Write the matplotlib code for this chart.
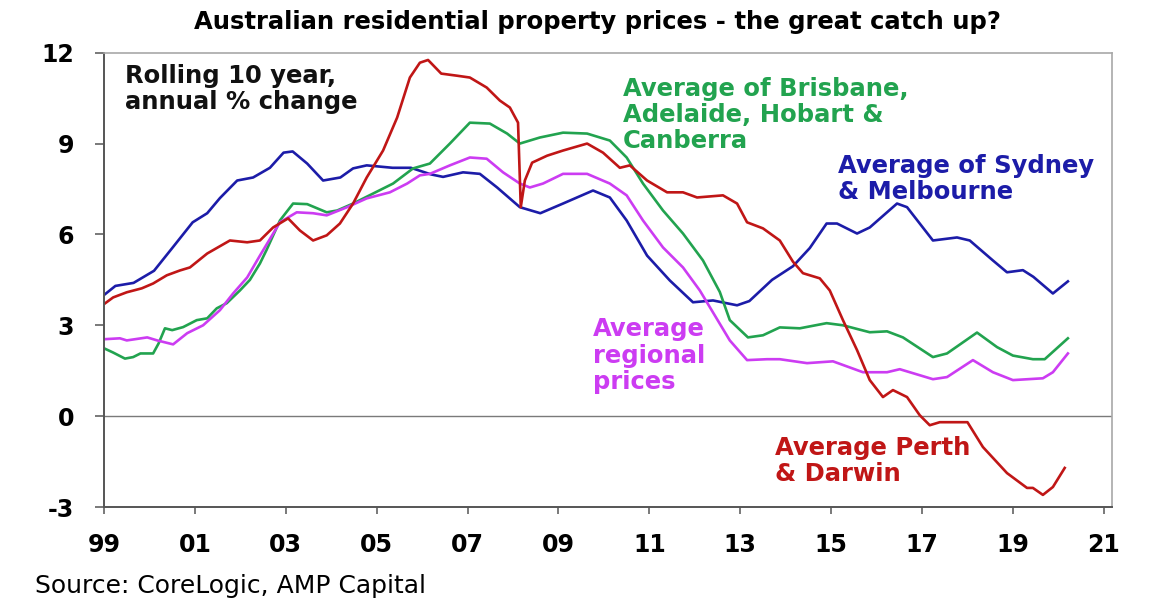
import matplotlib.pyplot as plt

plt.rcParams['axes.unicode_minus'] = False

# ------------------------------------
# Data (rolling 10 year, annual % change)
# ------------------------------------
syd_mel_years = [1999.0, 1999.25, 1999.65, 2000.1, 2000.5, 2000.95, 2001.27, 2001.55, 2001.93,
                 2002.28, 2002.65, 2002.95, 2003.15, 2003.47, 2003.82, 2004.2, 2004.48, 2004.78,
                 2005.35, 2005.75, 2006.2, 2006.46, 2006.9, 2007.27, 2007.65, 2008.15, 2008.6,
                 2009.1, 2009.76, 2010.13, 2010.5, 2010.95, 2011.45, 2011.96, 2012.4, 2012.93,
                 2013.2, 2013.45, 2013.7, 2014.16, 2014.53, 2014.9, 2015.13, 2015.57, 2015.85,
                 2016.45, 2016.67, 2017.24, 2017.77, 2018.05, 2018.56, 2018.87, 2019.22, 2019.45,
                 2019.88, 2020.21]
syd_mel = [4.0, 4.3, 4.4, 4.8, 5.55, 6.4, 6.7, 7.2, 7.78,
           7.88, 8.2, 8.7, 8.74, 8.34, 7.78, 7.88, 8.18, 8.28,
           8.2, 8.2, 7.98, 7.9, 8.05, 8.0, 7.55, 6.9, 6.7,
           7.02, 7.45, 7.22, 6.46, 5.3, 4.48, 3.76, 3.82, 3.66,
           3.8, 4.15, 4.5, 4.95, 5.55, 6.36, 6.36, 6.03, 6.23,
           7.02, 6.9, 5.8, 5.9, 5.8, 5.14, 4.75, 4.82, 4.6,
           4.05, 4.45]

bahc_years = [1999.0, 1999.2, 1999.46, 1999.64, 1999.8, 2000.08, 2000.2, 2000.34, 2000.5,
              2000.74, 2001.04, 2001.27, 2001.48, 2001.7, 2001.99, 2002.21, 2002.43, 2002.58,
              2002.87, 2003.16, 2003.47, 2003.9, 2004.13, 2004.48, 2004.92, 2005.36, 2005.8,
              2006.17, 2006.61, 2007.05, 2007.49, 2007.87, 2008.15, 2008.59, 2009.1, 2009.63,
              2010.13, 2010.5, 2010.86, 2011.3, 2011.74, 2012.18, 2012.55, 2012.77, 2013.17,
              2013.5, 2013.87, 2014.31, 2014.9, 2015.26, 2015.85, 2016.23, 2016.58, 2017.24,
              2017.55, 2018.21, 2018.65, 2019.0, 2019.44, 2019.7, 2020.21]
bahc = [2.24, 2.1, 1.9, 1.95, 2.07, 2.07, 2.4, 2.9, 2.84,
        2.94, 3.17, 3.23, 3.56, 3.73, 4.15, 4.5, 5.04, 5.5,
        6.46, 7.02, 7.0, 6.73, 6.79, 7.02, 7.35, 7.68, 8.18,
        8.34, 9.0, 9.69, 9.66, 9.33, 9.0, 9.2, 9.36, 9.33,
        9.1, 8.54, 7.68, 6.79, 6.03, 5.14, 4.1, 3.17, 2.6,
        2.67, 2.93, 2.9, 3.07, 3.0, 2.77, 2.8, 2.6, 1.95,
        2.07, 2.76, 2.28, 2.0, 1.88, 1.88, 2.57]

regional_years = [1999.0, 1999.35, 1999.5, 1999.95, 2000.17, 2000.52, 2000.83, 2001.18, 2001.55,
                  2001.84, 2002.15, 2002.43, 2002.87, 2003.24, 2003.6, 2003.9, 2004.35, 2004.78,
                  2005.29, 2005.67, 2005.95, 2006.17, 2006.61, 2007.05, 2007.42, 2007.78, 2008.15,
                  2008.37, 2008.66, 2009.1, 2009.63, 2010.13, 2010.5, 2010.86, 2011.3, 2011.74,
                  2012.11, 2012.33, 2012.77, 2013.15, 2013.59, 2013.87, 2014.47, 2015.04, 2015.7,
                  2016.23, 2016.51, 2017.24, 2017.55, 2018.12, 2018.56, 2019.0, 2019.66, 2019.88,
                  2020.21]
regional = [2.54, 2.57, 2.5, 2.6, 2.5, 2.37, 2.74, 3.0, 3.5,
            4.05, 4.58, 5.3, 6.4, 6.73, 6.7, 6.63, 6.9, 7.19,
            7.39, 7.68, 7.95, 8.0, 8.28, 8.54, 8.5, 8.05, 7.68,
            7.55, 7.68, 8.0, 8.0, 7.68, 7.29, 6.46, 5.57, 4.91,
            4.15, 3.6, 2.5, 1.85, 1.88, 1.88, 1.75, 1.81, 1.45,
            1.45, 1.55, 1.22, 1.29, 1.85, 1.45, 1.19, 1.25, 1.45,
            2.07]

per_dar_years = [1999.0, 1999.2, 1999.5, 1999.83, 2000.08, 2000.38, 2000.67, 2000.89, 2001.27,
                 2001.77, 2002.15, 2002.43, 2002.72, 2003.05, 2003.31, 2003.6, 2003.9, 2004.19,
                 2004.48, 2004.78, 2005.14, 2005.45, 2005.73, 2005.95, 2006.13, 2006.42, 2006.77,
                 2007.05, 2007.42, 2007.71, 2007.93, 2008.11, 2008.17, 2008.26, 2008.42, 2008.75,
                 2009.1, 2009.63, 2009.98, 2010.35, 2010.57, 2010.95, 2011.39, 2011.74, 2012.05,
                 2012.62, 2012.93, 2013.15, 2013.5, 2013.87, 2014.16, 2014.38, 2014.75, 2014.97,
                 2015.26, 2015.57, 2015.85, 2016.14, 2016.36, 2016.67, 2016.95, 2017.17, 2017.39,
                 2017.83, 2018.0, 2018.34, 2018.87, 2019.31, 2019.44, 2019.66, 2019.88, 2020.14]
per_dar = [3.7, 3.92, 4.09, 4.22, 4.38, 4.65, 4.81, 4.91, 5.37,
           5.8, 5.74, 5.8, 6.23, 6.53, 6.13, 5.8, 5.97, 6.36,
           7.02, 7.88, 8.77, 9.86, 11.18, 11.67, 11.76, 11.31, 11.24,
           11.18, 10.85, 10.42, 10.19, 9.69, 6.9, 7.78, 8.37, 8.6,
           8.77, 9.0, 8.7, 8.2, 8.28, 7.78, 7.39, 7.39, 7.22,
           7.29, 7.02, 6.4, 6.2, 5.8, 5.1, 4.72, 4.55, 4.15,
           3.17, 2.18, 1.19, 0.63, 0.86, 0.63, 0.03, -0.3, -0.2,
           -0.2, -0.2, -1.02, -1.88, -2.37, -2.37, -2.6, -2.34, -1.71]

x_ticks = [1999, 2001, 2003, 2005, 2007, 2009, 2011, 2013, 2015, 2017, 2019, 2021]
x_labels = ['99', '01', '03', '05', '07', '09', '11', '13', '15', '17', '19', '21']
y_ticks = [-3, 0, 3, 6, 9, 12]

# Colours
c_blue = '#1c1ca8'
c_green = '#22a34f'
c_magenta = '#cc3cf2'
c_red = '#c01616'

# ------------------------------------
# Figure Setup
# ------------------------------------
fig = plt.figure(figsize=(11.6, 6.15), dpi=100)
ax = fig.add_axes([0.0897, 0.1756, 0.8689, 0.7387])

lw = 1.9
ax.plot(syd_mel_years, syd_mel, color=c_blue, lw=lw)
ax.plot(bahc_years, bahc, color=c_green, lw=lw)
ax.plot(regional_years, regional, color=c_magenta, lw=lw)
ax.plot(per_dar_years, per_dar, color=c_red, lw=lw)

ax.axhline(0, color='#7a7a7a', lw=1.0, zorder=0)

ax.set_xlim(1999, 2021.18)
ax.set_ylim(-3, 12)
ax.set_xticks(x_ticks)
ax.set_xticklabels(x_labels)
ax.set_yticks(y_ticks)

for side in ['top', 'right']:
    ax.spines[side].set_color('#a8a8a8')
    ax.spines[side].set_linewidth(1.2)
for side in ['left', 'bottom']:
    ax.spines[side].set_color('#555555')
    ax.spines[side].set_linewidth(1.4)

ax.tick_params(axis='y', direction='out', length=6.5, width=1.1, color='#555555',
               pad=15, labelsize=17)
ax.tick_params(axis='x', direction='out', length=5, width=1.1, color='#555555',
               pad=14, labelsize=17)
for lab in ax.get_xticklabels() + ax.get_yticklabels():
    lab.set_fontweight('bold')

# ------------------------------------
# Labels
# ------------------------------------
txt = dict(fontsize=17.5, fontweight='bold', ha='left', va='top', linespacing=1.12)
ax.text(1999.46, 11.64, "Rolling 10 year,\nannual % change", color='#111111', **txt)
ax.text(2010.42, 11.21, "Average of Brisbane,\nAdelaide, Hobart &\nCanberra", color=c_green, **txt)
ax.text(2015.15, 8.67, "Average of Sydney\n& Melbourne", color=c_blue, **txt)
ax.text(2009.76, 3.26, "Average\nregional\nprices", color=c_magenta, **txt)
ax.text(2013.76, -0.66, "Average Perth\n& Darwin", color=c_red, **txt)

fig.text(0.515, 0.964, "Australian residential property prices - the great catch up?",
         ha='center', va='center', fontsize=17.5, fontweight='bold')
fig.text(0.030, 0.0358, "Source: CoreLogic, AMP Capital", ha='left', va='baseline',
         fontsize=18)

fig.savefig("out.png", dpi=100)
